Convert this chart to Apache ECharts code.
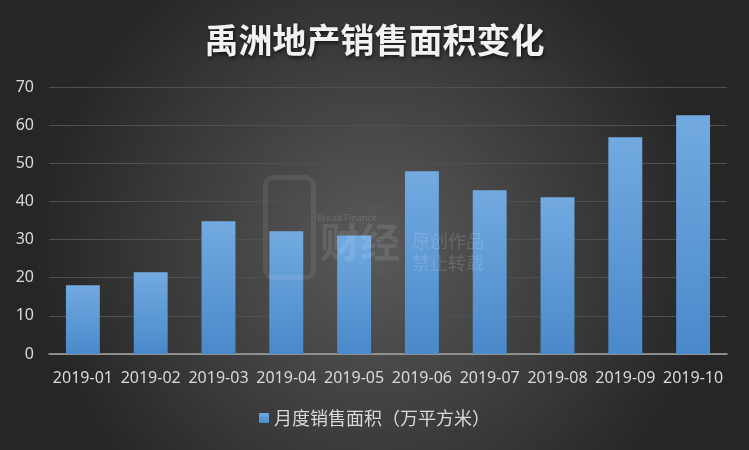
<!DOCTYPE html>
<html><head><meta charset="utf-8">
<script src="https://cdn.jsdelivr.net/npm/echarts@6/dist/echarts.min.js"></script>
<style>html,body{margin:0;padding:0;background:#333;}#c{width:749px;height:450px;}</style>
</head><body><div id="c"></div>
<script>
const categories = ['2019-01','2019-02','2019-03','2019-04','2019-05','2019-06','2019-07','2019-08','2019-09','2019-10'];
const salesArea = [18.0, 21.4, 34.8, 32.2, 31.1, 47.9, 42.9, 41.1, 56.8, 62.6];
const seriesName = '月度销售面积（万平方米）';
const titleText = '禹洲地产销售面积变化';

const chart = echarts.init(document.getElementById('c'));
chart.setOption({
  backgroundColor: {
    type: 'radial', x: 0.5, y: 0.55, r: 0.75,
    colorStops: [{offset: 0, color: '#5a5a5a'}, {offset: 1, color: '#262626'}]
  },
  title: {
    text: titleText, left: 'center', top: 18,
    textStyle: {color: '#f2f2f2', fontSize: 34, fontWeight: 'bold',
      fontFamily: 'Noto Sans CJK SC', textShadowColor: 'rgba(0,0,0,0.7)', textShadowBlur: 4, textShadowOffsetX: 1, textShadowOffsetY: 2}
  },
  graphic: [
    {type: 'text', left: 412, top: 230, z: 100, style: {text: '原创作品\n禁止转载', fill: 'rgba(255,255,255,0.14)', font: '18px "Noto Sans CJK SC"', lineHeight: 22}},
    {type: 'text', left: 317, top: 214, z: 100, style: {text: 'Bread Finance', fill: 'rgba(255,255,255,0.14)', font: '9px "Noto Sans"'}},
    {type: 'rect', left: 263, top: 175, z: 100, shape: {width: 48, height: 100, r: 8}, style: {fill: 'none', stroke: 'rgba(255,255,255,0.08)', lineWidth: 5}},
    {type: 'text', left: 320, top: 222, z: 100, style: {text: '财经', fill: 'rgba(255,255,255,0.10)', font: 'bold 40px "Noto Sans CJK SC"'}}
  ],
  legend: {
    bottom: 18, left: 'center', itemWidth: 10, itemHeight: 10, icon: 'rect', itemGap: 6,
    textStyle: {color: '#d9d9d9', fontSize: 18, fontFamily: 'Noto Sans CJK SC'},
    data: [seriesName]
  },
  grid: {left: 49, right: 22, top: 87, bottom: 96},
  xAxis: {
    type: 'category', data: categories,
    axisLine: {lineStyle: {color: '#a6a6a6', width: 1.5}},
    axisTick: {show: false},
    axisLabel: {color: '#d9d9d9', fontSize: 16, margin: 16, interval: 0, fontFamily: 'Noto Sans'}
  },
  yAxis: {
    type: 'value', min: 0, max: 70, interval: 10,
    axisLine: {show: false}, axisTick: {show: false},
    splitLine: {lineStyle: {color: '#505050', width: 1}},
    axisLabel: {color: '#d9d9d9', fontSize: 16, margin: 15, fontFamily: 'Noto Sans'}
  },
  series: [{
    name: seriesName, type: 'bar', data: salesArea, barWidth: '50%',
    itemStyle: {
      color: {type: 'linear', x: 0, y: 0, x2: 0, y2: 1,
        colorStops: [{offset: 0, color: '#72aae0'}, {offset: 1, color: '#4a89ca'}]},
      shadowColor: 'rgba(0,0,0,0.45)', shadowBlur: 6, shadowOffsetX: 2, shadowOffsetY: 1
    }
  }]
});
</script></body></html>
